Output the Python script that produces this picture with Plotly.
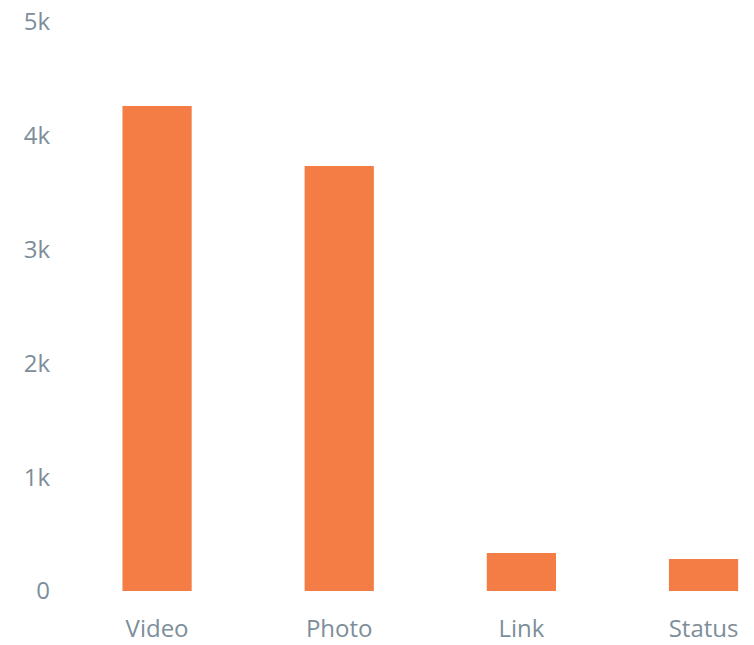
import plotly.graph_objects as go

categories = ["Video", "Photo", "Link", "Status"]
values = [4262, 3735, 334, 281]
y_tick_vals = [0, 1000, 2000, 3000, 4000, 5000]
y_tick_text = ["0", "1k", "2k", "3k", "4k", "5k"]

label_color = "#7d8e9a"
bar_color = "#f47c45"

fig = go.Figure(go.Bar(x=categories, y=values, marker_color=bar_color, width=0.38,
                       marker_line_width=0))
fig.update_layout(
    width=754, height=645,
    margin=dict(l=66, r=0, t=22, b=54),
    plot_bgcolor="white", paper_bgcolor="white",
    font=dict(family="Open Sans", size=24, color=label_color),
    showlegend=False,
    bargap=0.62,
)
fig.update_xaxes(range=[-0.5, 3.277], showgrid=False, showline=False, zeroline=False,
                 ticks="", ticklabelstandoff=21)
fig.update_yaxes(range=[0, 5000], tickvals=y_tick_vals, ticktext=y_tick_text,
                 showgrid=False, showline=False, zeroline=False, ticks="",
                 ticklabelstandoff=15)
fig.write_html("out.html")
